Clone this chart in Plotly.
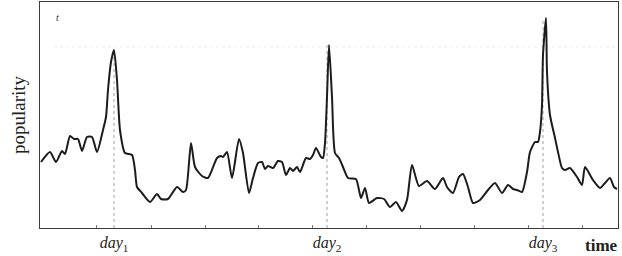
import plotly.graph_objects as go

# time (arbitrary units) and popularity (arbitrary units)
time = [1, 10, 16, 22, 25, 30, 34, 38, 42, 47, 52, 57, 63, 66, 68, 71, 74, 77, 80, 85,
        92, 95, 97, 102, 110, 117, 121, 128, 137, 143, 146, 151, 155, 162, 168, 177, 181,
        183, 187, 192, 199, 203, 209, 213, 218, 222, 225, 228, 233, 238, 242, 246, 250,
        253, 257, 260, 266, 270, 273, 276, 281, 283, 285, 287, 289, 292, 295, 299, 303,
        308, 316, 321, 325, 329, 337, 344, 350, 356, 362, 367, 372, 379, 387, 395, 403,
        407, 413, 419, 423, 428, 433, 440, 448, 455, 462, 468, 473, 477, 482, 487, 490,
        495, 498, 500, 502, 503, 506, 507, 510, 515, 518, 522, 525, 530, 537, 542, 545,
        553, 560, 565, 570, 574, 577]
popularity = [66, 76, 66, 77, 74, 92, 89, 89, 77, 91, 91, 76, 98, 111, 138, 166, 178,
              148, 98, 75, 73, 58, 41, 35, 26, 34, 29, 29, 41, 36, 38, 85, 61, 52, 50,
              70, 72, 71, 76, 50, 89, 75, 35, 50, 65, 66, 59, 62, 60, 67, 66, 53, 60,
              57, 61, 56, 70, 69, 73, 80, 71, 70, 85, 131, 183, 131, 75, 70, 61, 50, 49,
              30, 40, 25, 30, 29, 21, 26, 17, 28, 63, 42, 47, 39, 50, 41, 35, 51, 54,
              41, 25, 28, 38, 45, 35, 43, 39, 38, 36, 56, 76, 86, 86, 96, 123, 173,
              210, 156, 113, 90, 76, 60, 58, 60, 51, 43, 61, 48, 40, 45, 50, 41, 39]

day_labels = ["<i>day</i><sub>1</sub>", "<i>day</i><sub>2</sub>", "<i>day</i><sub>3</sub>"]
day_times = [74, 287, 503]
day_peaks = [178, 183, 210]
minor_ticks = [56, 111, 165, 218, 272, 326, 380, 434, 488, 542]
ref_level = 181

SERIF = "Liberation Serif, DejaVu Serif, serif"

fig = go.Figure()

# dotted verticals from each peak down to the axis
for t, p in zip(day_times, day_peaks):
    fig.add_trace(go.Scatter(x=[t, t], y=[0, p], mode="lines",
                             line=dict(color="#a0a0a0", width=1, dash="dot"),
                             hoverinfo="skip", showlegend=False))

# faint horizontal reference line
fig.add_trace(go.Scatter(x=[14, 576], y=[ref_level, ref_level], mode="lines",
                         line=dict(color="#ededed", width=1, dash="dot"),
                         hoverinfo="skip", showlegend=False))

fig.add_trace(go.Scatter(x=time, y=popularity, mode="lines",
                         line=dict(color="#1c1c1c", width=2, shape="spline", smoothing=0.6),
                         showlegend=False))

fig.update_layout(
    width=622, height=256,
    margin=dict(l=40, r=4, t=2, b=28),
    paper_bgcolor="white", plot_bgcolor="white",
    font=dict(family=SERIF, color="#222"),
    xaxis=dict(range=[0, 578], showgrid=False, zeroline=False,
               showline=True, mirror=True, linecolor="#3a3a3a", linewidth=1.2,
               tickmode="array", tickvals=day_times, ticktext=day_labels,
               ticks="", ticklabelstandoff=0,
               tickfont=dict(size=16, family=SERIF, color="#222"),
               minor=dict(tickmode="array", tickvals=minor_ticks, ticks="inside",
                          ticklen=3, tickcolor="#777", tickwidth=1)),
    yaxis=dict(range=[0, 226], showgrid=False, zeroline=False,
               showline=True, mirror=True, linecolor="#3a3a3a", linewidth=1.2,
               showticklabels=False, ticks=""),
    annotations=[
        dict(text="popularity", x=-0.038, y=0.5, xref="paper", yref="paper",
             textangle=-90, showarrow=False, xanchor="center", yanchor="middle",
             font=dict(size=19, family=SERIF, color="#222")),
        dict(text="<b>time</b>", x=1.003, y=-0.025, xref="paper", yref="paper",
             showarrow=False, xanchor="right", yanchor="top",
             font=dict(size=17, family=SERIF, color="#222")),
        dict(text="<i>t</i>", x=0.03, y=0.93, xref="paper", yref="paper",
             showarrow=False, xanchor="center", yanchor="middle",
             font=dict(size=10, family=SERIF, color="#333")),
    ],
)

fig.write_html("out.html", config={"displayModeBar": False},
               post_script="document.body.style.margin='0';")
